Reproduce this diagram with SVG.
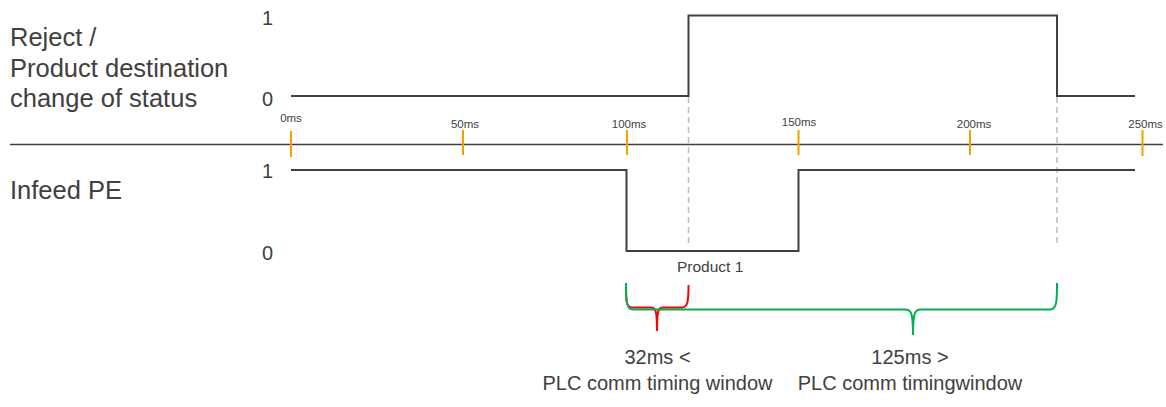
<svg xmlns="http://www.w3.org/2000/svg" width="1166" height="407" viewBox="0 0 1166 407">
<style>
text{font-family:"Liberation Sans",Arial,sans-serif;fill:#404040}
.lbl{font-size:25.5px}
.lvl{font-size:20px}
.tk{font-size:11.5px;text-anchor:middle}
.sig{fill:none;stroke:#404040;stroke-width:2}
.axis{stroke:#404040;stroke-width:1.5}
.tick{stroke:#F5A000;stroke-width:2}
.dash{stroke:#BFBFBF;stroke-width:1.5;stroke-dasharray:6 4}
.br{fill:none;stroke-width:2;stroke-linejoin:round}
.note{font-size:20px;text-anchor:middle}
</style>
<rect width="1166" height="407" fill="#fff"/>
<g id="labels">
<text class="lbl" x="10" y="46">Reject /</text>
<text class="lbl" x="10" y="77">Product destination</text>
<text class="lbl" x="10" y="107">change of status</text>
<text class="lbl" x="10" y="199">Infeed PE</text>
<text class="lvl" x="262" y="25">1</text>
<text class="lvl" x="262" y="106">0</text>
<text class="lvl" x="262" y="178">1</text>
<text class="lvl" x="262" y="260">0</text>
</g>
<g id="axis">
<line class="axis" x1="10" y1="144.5" x2="1163" y2="144.5"/>
<line class="tick" x1="291" y1="131" x2="291" y2="157"/>
<line class="tick" x1="463" y1="130" x2="463" y2="155"/>
<line class="tick" x1="627" y1="130" x2="627" y2="155"/>
<line class="tick" x1="798.5" y1="130" x2="798.5" y2="155"/>
<line class="tick" x1="970" y1="130" x2="970" y2="155"/>
<line class="tick" x1="1142.5" y1="130" x2="1142.5" y2="156"/>
<text class="tk" x="291" y="122">0ms</text>
<text class="tk" x="465" y="128">50ms</text>
<text class="tk" x="629" y="128">100ms</text>
<text class="tk" x="799" y="125.5">150ms</text>
<text class="tk" x="974" y="128">200ms</text>
<text class="tk" x="1145.5" y="128">250ms</text>
</g>
<g id="guides">
<line class="dash" x1="688.5" y1="97" x2="688.5" y2="246"/>
<line class="dash" x1="1057" y1="97" x2="1057" y2="246"/>
</g>
<g id="reject-signal">
<path class="sig" d="M291,96 H688.5 V15.5 H1057 V96 H1135"/>
</g>
<g id="infeed-signal">
<path class="sig" d="M291,170 H626.5 V251 H798.5 V170 H1135"/>
<text x="677" y="272" style="font-size:15.5px">Product 1</text>
</g>
<g id="connectors">
<path class="br" stroke="#FF0000" d="M626,285 C626,300 626,307.5 632,307.5 L651,307.5 C655.5,307.5 657,310 657,331 M657,331 C657,310 658.5,307.5 663,307.5 L682,307.5 C688,307.5 688.5,300 688.5,285"/>
<path class="br" stroke="#00B050" d="M626,283 C626,300 626,309.5 633,309.5 L905,309.5 C911,309.5 913,312 913,335 M913,335 C913,312 915,309.5 921,309.5 L1050,309.5 C1057,309.5 1057,300 1057,283"/>
</g>
<g id="notes">
<text class="note" x="657.5" y="364">32ms &lt;</text>
<text class="note" x="657.5" y="390">PLC comm timing window</text>
<text class="note" x="910" y="364">125ms &gt;</text>
<text class="note" x="910" y="390">PLC comm timingwindow</text>
</g>
</svg>
